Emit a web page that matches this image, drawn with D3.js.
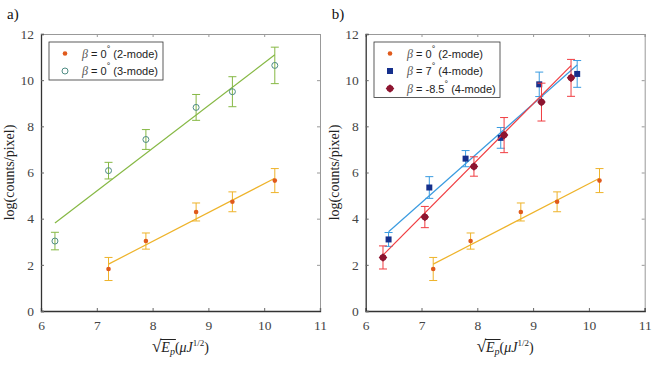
<html>
<script src="https://d3js.org/d3.v7.min.js"></script>
<style>
	body { margin: 0; background: white; }
	text { font-family: "Liberation Serif", "DejaVu Serif", serif; }
	.leg { font-family: "Liberation Sans", Arial, sans-serif; font-size: 11px; fill: #222; }
</style>

<body>
	<svg width=654 height=368></svg>
	<script>
		// beta = 0 (2-mode), shown in both panels
		const x2 = [7.21, 7.88, 8.78, 9.43, 10.19];
		const y2 = [1.82, 3.03, 4.29, 4.73, 5.65];
		const e2 = [0.5, 0.35, 0.39, 0.43, 0.52];
		const fit2 = [[7.21, 2.03], [10.19, 5.75]];

		// beta = 0 (3-mode)
		const x3 = [6.25, 7.21, 7.88, 8.78, 9.43, 10.19];
		const y3 = [3.03, 6.08, 7.43, 8.82, 9.5, 10.64];
		const e3 = [0.38, 0.36, 0.43, 0.56, 0.65, 0.79];
		const fit3 = [[6.25, 3.81], [10.19, 11.1]];

		// beta = 7 (4-mode)
		const x7 = [6.41, 7.14, 7.79, 8.42, 9.11, 9.79];
		const y7 = [3.1, 5.35, 6.6, 7.5, 9.82, 10.27];
		const e7 = [0.3, 0.47, 0.35, 0.45, 0.53, 0.58];
		const fit7 = [[6.41, 3.43], [9.79, 10.66]];

		// beta = -8.5 (4-mode)
		const x85 = [6.31, 7.06, 7.94, 8.48, 9.15, 9.68];
		const y85 = [2.32, 4.07, 6.26, 7.62, 9.05, 10.1];
		const e85 = [0.5, 0.46, 0.42, 0.76, 0.82, 0.8];
		const fit85 = [[6.31, 2.42], [9.68, 10.63]];

		const xTicks = [6, 7, 8, 9, 10, 11];
		const yTicks = [0, 2, 4, 6, 8, 10, 12];

		const svg = d3.select('svg');
		const plotTop = 34, plotBottom = 311, w = 279;

		function styleTicks(a) {
			a.attr('font-family', null);
			a.selectAll('.tick text')
				.style('font-family', '"Liberation Serif", "DejaVu Serif", serif')
				.style('font-size', '13.5px').attr('fill', '#444');
		}

		function panel(left, label, series, legend) {
			const x = d3.scaleLinear().domain([6, 11]).range([left, left + w]);
			const y = d3.scaleLinear().domain([0, 12]).range([plotBottom, plotTop]);
			const g = svg.append('g');

			// frame: top/right grey, ticks inward
			g.append('g').attr('transform', 'translate(0,' + plotTop + ')')
				.call(d3.axisTop(x).tickValues(xTicks).tickSize(-3).tickFormat(''))
				.call(a => a.selectAll('path,line').attr('stroke', '#999'));
			g.append('g').attr('transform', 'translate(' + (left + w) + ',0)')
				.call(d3.axisRight(y).tickValues(yTicks).tickSize(-3).tickFormat(''))
				.call(a => a.selectAll('path,line').attr('stroke', '#999'));
			g.append('g').attr('transform', 'translate(0,' + plotBottom + ')')
				.call(d3.axisBottom(x).tickValues(xTicks).tickSize(-3).tickPadding(9).tickFormat(d3.format('d')))
				.call(a => a.select('.domain').attr('stroke', '#333').attr('stroke-width', 1.3))
				.call(a => a.selectAll('.tick line').attr('stroke', '#666'))
				.call(styleTicks);
			g.append('g').attr('transform', 'translate(' + left + ',0)')
				.call(d3.axisLeft(y).tickValues(yTicks).tickSize(-3).tickPadding(7).tickFormat(d3.format('d')))
				.call(a => a.select('.domain').attr('stroke', '#333').attr('stroke-width', 1.3))
				.call(a => a.selectAll('.tick line').attr('stroke', '#666'))
				.call(styleTicks);

			series.forEach(s => {
				g.append('line')
					.attr('x1', x(s.fit[0][0])).attr('y1', y(s.fit[0][1]))
					.attr('x2', x(s.fit[1][0])).attr('y2', y(s.fit[1][1]))
					.attr('stroke', s.line).attr('stroke-width', 1.2);
				const pts = s.xs.map((v, i) => ({ x: v, y: s.ys[i], e: s.es[i] }));
				const eb = g.append('g').attr('stroke', s.line).attr('stroke-width', 1);
				pts.forEach(p => {
					eb.append('line').attr('x1', x(p.x)).attr('x2', x(p.x))
						.attr('y1', y(p.y - p.e)).attr('y2', y(p.y + p.e));
					[p.y - p.e, p.y + p.e].forEach(v => eb.append('line')
						.attr('x1', x(p.x) - 4).attr('x2', x(p.x) + 4)
						.attr('y1', y(v)).attr('y2', y(v)));
				});
				pts.forEach(p => drawMarker(g, s.marker, x(p.x), y(p.y), s.color));
			});

			// legend
			const lg = g.append('g');
			lg.append('rect').attr('x', legend.x).attr('y', legend.y)
				.attr('width', legend.w).attr('height', series.length * 17.5 + 3)
				.attr('fill', 'white').attr('stroke', '#333').attr('stroke-width', 0.8);
			series.forEach((s, i) => {
				const cy = legend.y + 11.5 + i * 17.5;
				drawMarker(lg, s.marker, legend.x + 16, cy, s.color);
				const t = lg.append('text').attr('class', 'leg')
					.attr('x', legend.x + 33).attr('y', cy + 4);
				t.append('tspan').text('β').style('font-family', '"Liberation Serif", serif')
					.style('font-style', 'italic').style('font-size', '12px').attr('fill', '#555');
				t.append('tspan').text(' = ' + s.beta);
				t.append('tspan').text('°').attr('dy', -6).style('font-size', '9px');
				t.append('tspan').text(' (' + s.mode + ')').attr('dy', 6);
			});

			// axis labels
			g.append('text').attr('transform', 'translate(' + (left - 27) + ',' + ((plotTop + plotBottom) / 2) + ') rotate(-90)')
				.attr('text-anchor', 'middle').style('font-size', '14px').attr('fill', '#222')
				.text('log(counts/pixel)');
			const xl = g.append('text').attr('x', left + w / 2).attr('y', 352)
				.attr('text-anchor', 'middle').style('font-size', '14px').attr('fill', '#222');
			const tRoot = xl.append('tspan').text('√').style('font-size', '17px');
			xl.append('tspan').text('E').style('font-style', 'italic');
			xl.append('tspan').text('p').style('font-style', 'italic').style('font-size', '10px').attr('dy', 3);
			xl.append('tspan').text('(').attr('dy', -3);
			xl.append('tspan').text('μJ').style('font-style', 'italic');
			xl.append('tspan').text('1/2').style('font-size', '9px').attr('dy', -6);
			xl.append('tspan').text(')').attr('dy', 6);
			// radical bar over E_p
			const bb = xl.node().getBBox();
			const rootW = tRoot.node().getComputedTextLength();
			const ePW = xl.node().getSubStringLength(1, 2);
			g.append('line').attr('x1', bb.x + rootW - 1).attr('x2', bb.x + rootW + ePW + 1)
				.attr('y1', 352 - 12.5).attr('y2', 352 - 12.5)
				.attr('stroke', '#222').attr('stroke-width', 1);

			svg.append('text').attr('x', left - 34).attr('y', 19).style('font-size', '15px')
				.attr('fill', '#111').text(label);
		}

		function drawMarker(g, type, cx, cy, color) {
			if (type === 'dot') {
				g.append('circle').attr('cx', cx).attr('cy', cy).attr('r', 2.3).attr('fill', color);
			} else if (type === 'ring') {
				g.append('circle').attr('cx', cx).attr('cy', cy).attr('r', 3)
					.attr('fill', 'none').attr('stroke', color).attr('stroke-width', 1);
			} else if (type === 'square') {
				g.append('path').attr('d', d3.symbol(d3.symbolSquare, 36)()).attr('transform', 'translate(' + cx + ',' + cy + ')')
					.attr('fill', color);
			} else {
				g.append('path').attr('d', 'M0,-4.3L4.3,0L0,4.3L-4.3,0Z').attr('transform', 'translate(' + cx + ',' + cy + ')')
					.attr('fill', color);
				g.append('circle').attr('cx', cx).attr('cy', cy).attr('r', 3.3).attr('fill', color);
			}
		}

		const s2 = { xs: x2, ys: y2, es: e2, fit: fit2, marker: 'dot', color: '#e05a1c', line: '#eeb32a', beta: '0', mode: '2-mode' };
		const s3 = { xs: x3, ys: y3, es: e3, fit: fit3, marker: 'ring', color: '#4f8c84', line: '#86b844', beta: '0', mode: '3-mode' };
		const s7 = { xs: x7, ys: y7, es: e7, fit: fit7, marker: 'square', color: '#152f8c', line: '#3a9be0', beta: '7', mode: '4-mode' };
		const s85 = { xs: x85, ys: y85, es: e85, fit: fit85, marker: 'diamond', color: '#8e1530', line: '#f03c40', beta: '-8.5', mode: '4-mode' };

		panel(41, 'a)', [s2, s3], { x: 49, y: 42, w: 114 });
		panel(365.7, 'b)', [s2, s7, s85], { x: 374, y: 42, w: 126 });
	</script>
</body>

</html>
